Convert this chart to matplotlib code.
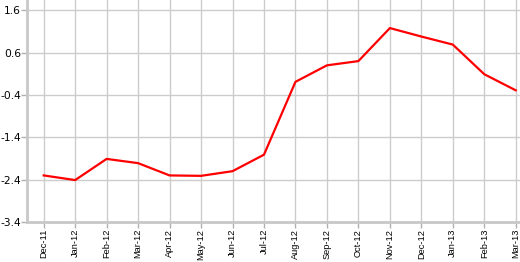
import matplotlib
matplotlib.use('Agg')
import matplotlib.pyplot as plt

months = ['Dec-11', 'Jan-12', 'Feb-12', 'Mar-12', 'Apr-12', 'May-12', 'Jun-12', 'Jul-12',
          'Aug-12', 'Sep-12', 'Oct-12', 'Nov-12', 'Dec-12', 'Jan-13', 'Feb-13', 'Mar-13']
values = [-2.30, -2.41, -1.91, -2.01, -2.30, -2.31, -2.20, -1.81,
          -0.09, 0.30, 0.40, 1.18, 0.98, 0.79, 0.09, -0.29]
yticks = [-3.4, -2.4, -1.4, -0.4, 0.6, 1.6]

grid_col = '#cccccc'

fig = plt.figure(figsize=(5.2, 2.62), dpi=100)
ax = fig.add_axes([27 / 520, 40 / 262, 493 / 520, 222 / 262])

x = list(range(len(months)))
ax.plot(x, values, color='#ff0000', linewidth=1.6, zorder=3)

ax.set_xlim(-0.53, 15.135)
ax.set_ylim(-3.4, 1.843)
ax.set_xticks(x)
ax.set_xticklabels(months, rotation=90, fontsize=6.7, family='Liberation Sans')
ax.set_yticks(yticks)
ax.set_yticklabels([f'{v:.1f}' for v in yticks], fontsize=7.7, family='DejaVu Sans')

ax.grid(True, color=grid_col, linewidth=1.0)
ax.set_axisbelow(True)
for side in ['top', 'right']:
    ax.spines[side].set_visible(False)
for side in ['left', 'bottom']:
    ax.spines[side].set_color('#c8c8c8')
    ax.spines[side].set_linewidth(2)
ax.tick_params(axis='both', color='#b0b0b0', length=4, width=1)
ax.tick_params(axis='x', pad=1)
ax.tick_params(axis='y', pad=0.3)

plt.savefig('out.png', dpi=100)
